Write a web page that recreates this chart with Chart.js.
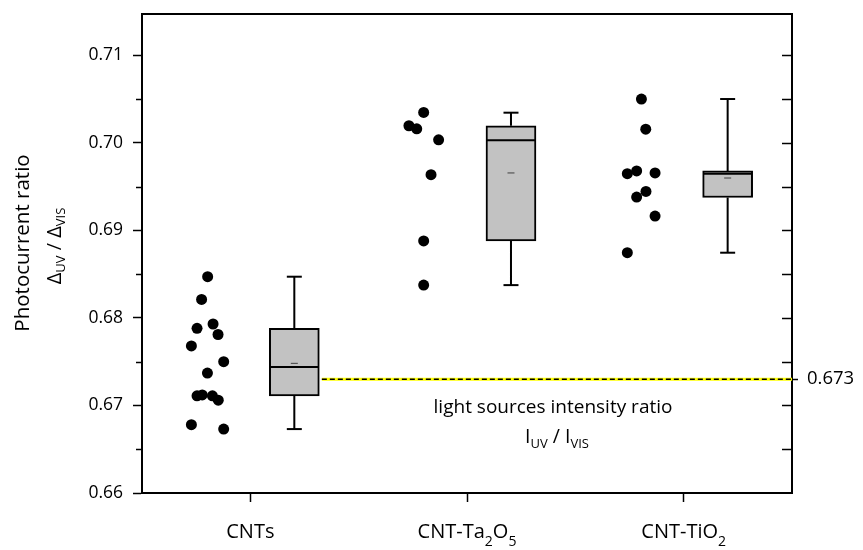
<!DOCTYPE html>
<html><head><meta charset="utf-8">
<script src="https://cdn.jsdelivr.net/npm/chart.js@4"></script>
<style>html,body{margin:0;padding:0;background:#fff}#wrap{width:863px;height:550px;position:relative}</style>
</head><body><div id="wrap"><canvas id="c"></canvas></div>
<script>
// ---------- data ----------
const categories = ['CNTs', 'CNT-Ta2O5', 'CNT-TiO2'];

const cntsValues    = [0.6847, 0.6821, 0.6788, 0.6793, 0.6781, 0.6768, 0.6750, 0.6737, 0.6711, 0.6712, 0.6711, 0.6706, 0.6678, 0.6673];
const cntsJitter    = [-0.197, -0.225, -0.246, -0.172, -0.149, -0.272, -0.123, -0.198, -0.246, -0.222, -0.175, -0.148, -0.272, -0.123];
const ta2o5Values   = [0.70346, 0.70194, 0.70159, 0.70033, 0.69635, 0.68878, 0.68374];
const ta2o5Jitter   = [-0.200, -0.268, -0.232, -0.131, -0.166, -0.200, -0.200];
const tio2Values    = [0.70499, 0.70155, 0.69647, 0.69678, 0.69655, 0.69444, 0.69379, 0.69162, 0.68744];
const tio2Jitter    = [-0.195, -0.175, -0.260, -0.217, -0.132, -0.174, -0.217, -0.132, -0.260];

const boxMin    = [0.6673, 0.68374, 0.68744];
const boxQ1     = [0.6711, 0.68878, 0.69375];
const boxMedian = [0.6744, 0.70029, 0.69647];
const boxMean   = [0.6748, 0.69655, 0.69597];
const boxQ3     = [0.6788, 0.70194, 0.69678];
const boxMax    = [0.6847, 0.70343, 0.70499];

const refRatio = 0.673;
const refStart = 0.33;
const yTicks = [0.66, 0.67, 0.68, 0.69, 0.70, 0.71];
const yMinorTicks = [0.665, 0.675, 0.685, 0.695, 0.705];
const yRightTicks = [0.665, 0.67, 0.675, 0.68, 0.685, 0.69, 0.695, 0.70, 0.705, 0.71];
const yMin = 0.66, yMax = 0.7147;

const yTitle1 = 'Photocurrent ratio';
const yTitle2 = [{t:'\u0394'}, {t:'UV', sub:true}, {t:' / \u0394'}, {t:'VIS', sub:true}];
const noteLine1 = 'light sources intensity ratio';
const noteLine2 = [{t:'I'}, {t:'UV', sub:true}, {t:' / I'}, {t:'VIS', sub:true}];

// ---------- build datasets ----------
const boxOffset = 0.203;
const groups = [[cntsValues, cntsJitter], [ta2o5Values, ta2o5Jitter], [tio2Values, tio2Jitter]];
const dots = [];
groups.forEach(([vals, jit], i) => vals.forEach((v, k) => dots.push({x: i + jit[k], y: v})));
const bx = categories.map((_, i) => i + boxOffset);
const boxes = bx.map((x, i) => ({x, y: [boxQ1[i], boxQ3[i]]}));
const whiskers = [];
bx.forEach((x, i) => {
  whiskers.push({x, y: boxMax[i]}, {x, y: boxQ3[i]}, {x, y: null});
  whiskers.push({x, y: boxQ1[i]}, {x, y: boxMin[i]}, {x, y: null});
});
const caps = [];
bx.forEach((x, i) => caps.push({x, y: boxMax[i]}, {x, y: boxMin[i]}));
const medians = bx.map((x, i) => ({x, y: boxMedian[i]}));
const means = bx.map((x, i) => ({x, y: boxMean[i]}));
const refLine = [{x: refStart, y: refRatio}, {x: categories.length - 0.5, y: refRatio}];

const FONT = '"Open Sans", "Noto Sans", sans-serif';

function splitSub(s) {
  return s.split(/(\d+)/).filter(Boolean).map(t => ({t, sub: /^\d+$/.test(t)}));
}
function richWidth(ctx, parts, size, subSize) {
  let w = 0;
  parts.forEach(p => { ctx.font = (p.sub ? subSize : size) + 'px ' + FONT; w += ctx.measureText(p.t).width; });
  return w;
}
function drawRich(ctx, parts, cx, baseY, size, subSize, subDy) {
  const w = richWidth(ctx, parts, size, subSize);
  let x = cx - w / 2;
  ctx.textAlign = 'left';
  ctx.textBaseline = 'alphabetic';
  parts.forEach(p => {
    ctx.font = (p.sub ? subSize : size) + 'px ' + FONT;
    ctx.fillText(p.t, x, baseY + (p.sub ? subDy : 0));
    x += ctx.measureText(p.t).width;
  });
}

const framePlugin = {
  id: 'frame',
  afterDraw(chart) {
    const {ctx, chartArea: a, scales} = chart;
    const ys = scales.y, xs = scales.x;
    ctx.save();
    ctx.strokeStyle = '#000';
    ctx.fillStyle = '#000';
    ctx.lineWidth = 2;
    // top border
    ctx.beginPath(); ctx.moveTo(a.left - 1, a.top); ctx.lineTo(a.right + 1, a.top); ctx.stroke();
    // left minor ticks
    ctx.lineWidth = 1.5;
    yMinorTicks.forEach(v => {
      const y = Math.round(ys.getPixelForValue(v)) + 0.5;
      ctx.beginPath(); ctx.moveTo(a.left - 6, y); ctx.lineTo(a.left, y); ctx.stroke();
    });
    // right inward ticks
    yRightTicks.forEach(v => {
      const y = Math.round(ys.getPixelForValue(v)) + 0.5;
      ctx.beginPath(); ctx.moveTo(a.right - 10, y); ctx.lineTo(a.right, y); ctx.stroke();
    });
    // category labels
    categories.forEach((c, i) => {
      drawRich(ctx, splitSub(c), xs.getPixelForValue(i), 538, 20, 14, 8);
    });
    // y title
    ctx.save();
    ctx.translate(29, 243);
    ctx.rotate(-Math.PI / 2);
    ctx.font = '20.5px ' + FONT;
    ctx.textAlign = 'center';
    ctx.textBaseline = 'alphabetic';
    ctx.fillText(yTitle1, 0, 0);
    ctx.restore();
    ctx.save();
    ctx.translate(61, 246);
    ctx.rotate(-Math.PI / 2);
    drawRich(ctx, yTitle2, 0, 0, 20, 13, 4);
    ctx.restore();
    // annotation
    const nx = 553;
    ctx.font = '19px ' + FONT;
    ctx.textAlign = 'center';
    ctx.textBaseline = 'alphabetic';
    ctx.fillText(noteLine1, nx, 413);
    drawRich(ctx, noteLine2, nx + 4, 443, 19.5, 13, 5);
    ctx.restore();
  }
};

const zeroPad = s => { s.paddingTop = 0; s.paddingBottom = 0; s.paddingLeft = 0; s.paddingRight = 0; };

new Chart(document.getElementById('c'), {
  type: 'scatter',
  data: {
    datasets: [
      {type: 'line', data: refLine, borderColor: '#ffff00', borderWidth: 3, pointRadius: 0, order: 9},
      {type: 'line', data: refLine, borderColor: '#000', borderWidth: 1.5, borderDash: [5, 3], pointRadius: 0, order: 8},
      {type: 'line', data: whiskers, borderColor: '#000', borderWidth: 2, pointRadius: 0, spanGaps: false, order: 7},
      {type: 'bar', data: boxes, backgroundColor: '#c2c2c2', borderColor: '#000', borderWidth: 2, borderSkipped: false, barThickness: 50, grouped: false, order: 6},
      {data: caps, pointStyle: 'line', pointRadius: 7.5, pointBorderColor: '#000', pointBorderWidth: 2, showLine: false, order: 4},
      {data: medians, pointStyle: 'line', pointRadius: 24, pointBorderColor: '#000', pointBorderWidth: 2, showLine: false, order: 3},
      {data: means, pointStyle: 'line', pointRadius: 3.5, pointBorderColor: '#555', pointBorderWidth: 1.2, showLine: false, order: 2},
      {data: dots, pointStyle: 'circle', pointRadius: 5.5, pointBackgroundColor: '#000', pointBorderWidth: 0, showLine: false, order: 1}
    ]
  },
  options: {
    responsive: true,
    maintainAspectRatio: false,
    animation: false,
    events: [],
    layout: {autoPadding: false, padding: {top: 14, left: 0, right: 0, bottom: 0}},
    plugins: {legend: {display: false}, tooltip: {enabled: false}},
    scales: {
      x: {
        type: 'linear', position: 'bottom', min: -0.5, max: categories.length - 0.5, offset: false,
        afterBuildTicks: s => { s.ticks = categories.map((_, i) => ({value: i})); },
        afterFit: s => { s.height = 57; zeroPad(s); },
        ticks: {display: false},
        grid: {offset: false, drawOnChartArea: false, drawTicks: true, tickLength: 9, tickWidth: 1.5, tickColor: '#000'},
        border: {display: true, color: '#000', width: 2}
      },
      y: {
        type: 'linear', position: 'left', min: yMin, max: yMax,
        afterBuildTicks: s => { s.ticks = yTicks.map(v => ({value: v})); },
        afterFit: s => { s.width = 142; zeroPad(s); },
        ticks: {color: '#000', font: {family: FONT, size: 17.5}, padding: 10, callback: v => v.toFixed(2)},
        grid: {drawOnChartArea: false, drawTicks: true, tickLength: 9, tickWidth: 1.5, tickColor: '#000'},
        border: {display: true, color: '#000', width: 2}
      },
      y2: {
        type: 'linear', position: 'right', min: yMin, max: yMax,
        afterBuildTicks: s => { s.ticks = [{value: refRatio}]; },
        afterFit: s => { s.width = 71; zeroPad(s); },
        ticks: {color: '#000', font: {family: FONT, size: 18.5}, padding: 9, callback: v => v.toFixed(3)},
        grid: {drawOnChartArea: false, drawTicks: true, tickLength: 6, tickWidth: 1.5, tickColor: '#000'},
        border: {display: true, color: '#000', width: 2}
      }
    }
  },
  plugins: [framePlugin]
});
</script>
</body></html>
